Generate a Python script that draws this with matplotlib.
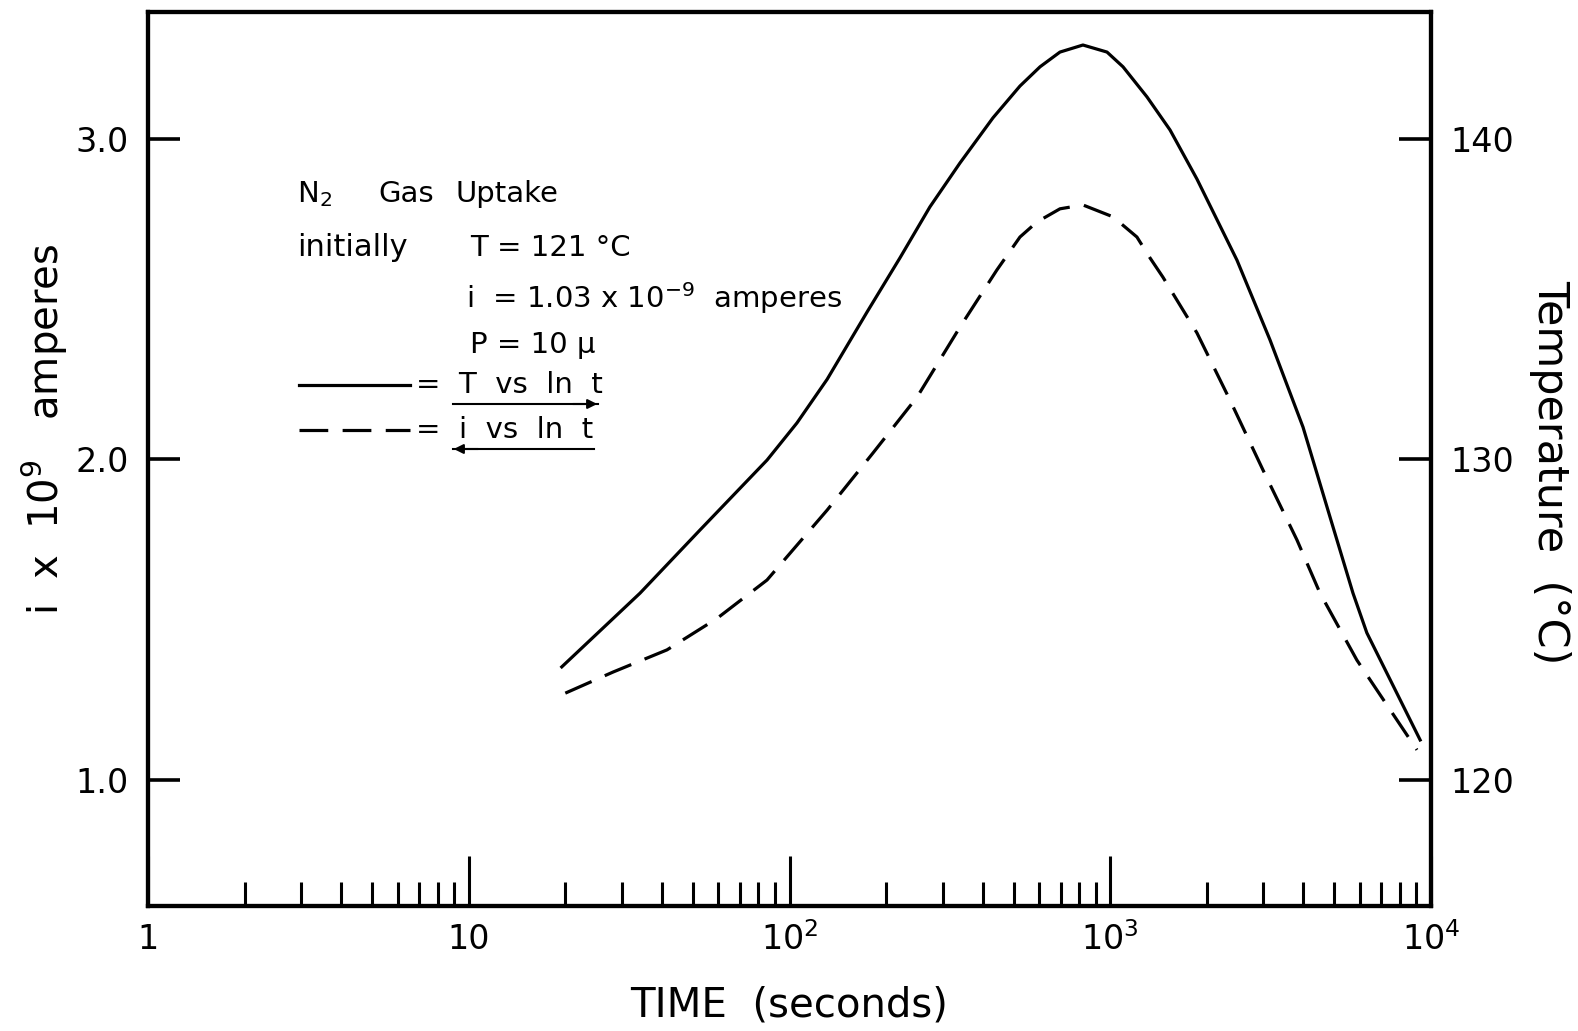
import numpy as np
import matplotlib
matplotlib.use("Agg")
import matplotlib.pyplot as plt
from matplotlib.ticker import FixedLocator, LogLocator, NullFormatter

# solid curve: temperature (deg C, right axis) vs time (s)
temp_time = [19.5, 34.2, 52.6, 85.1, 105.5, 131, 174.5, 221, 274, 340, 431, 523, 604,
             697, 822, 977, 1096, 1302, 1536, 1863, 2483, 3148, 3990, 4285, 4842,
             5712, 6310, 9250]
temp_vals = [123.53, 125.83, 127.80, 129.98, 131.14, 132.50, 134.60, 136.29, 137.88,
             139.25, 140.66, 141.65, 142.25, 142.71, 142.93, 142.71, 142.25, 141.31,
             140.28, 138.75, 136.22, 133.73, 131.01, 129.98, 128.21, 125.83, 124.59,
             121.25]

# dashed curve: current i x 1e9 (amperes, left axis) vs time (s)
cur_time = [20, 28.2, 41.5, 59.4, 85.1, 131, 182, 250, 340, 443, 523, 591, 697, 822,
            1020, 1211, 1330, 1459, 1863, 2360, 2994, 3820, 4508, 5875, 9040]
cur_vals = [1.271, 1.337, 1.406, 1.504, 1.624, 1.842, 2.020, 2.195, 2.413, 2.591,
            2.694, 2.741, 2.782, 2.794, 2.757, 2.694, 2.629, 2.569, 2.395, 2.186,
            1.967, 1.749, 1.583, 1.374, 1.094]

x_ticks = [1, 10, 100, 1000, 10000]
x_tick_labels = ["1", "10", "$10^2$", "$10^3$", "$10^4$"]
i_ticks = [1.0, 2.0, 3.0]
t_ticks = [120, 130, 140]
i_lim = (0.607, 3.396)

W, H = 1578, 1031
fig = plt.figure(figsize=(W / 100, H / 100), dpi=100)
ax = fig.add_axes([148 / W, 1 - 906 / H, (1431 - 148) / W, (906 - 12) / H])

ax.plot(cur_time, cur_vals, color="black", lw=2.3, dashes=(9, 4.5))
ax.set_xscale("log")
ax.set_xlim(1, 1e4)
ax.set_ylim(*i_lim)

ax.xaxis.set_major_locator(FixedLocator(x_ticks))
ax.set_xticklabels(x_tick_labels)
ax.xaxis.set_minor_locator(LogLocator(base=10, subs=np.arange(2, 10)))
ax.xaxis.set_minor_formatter(NullFormatter())
ax.set_yticks(i_ticks)
ax.set_yticklabels([f"{v:.1f}" for v in i_ticks])

ax.tick_params(axis="x", which="major", direction="in", length=36, width=2.2,
               labelsize=24, pad=12, top=False)
ax.tick_params(axis="x", which="minor", direction="in", length=17, width=2.2, top=False)
ax.tick_params(axis="y", direction="in", length=23, width=2.6, labelsize=24, pad=14,
               right=False)

# temperature axis shares the scale: i=1 <-> 120 C, i=3 <-> 140 C
ax2 = ax.twinx()
ax2.plot(temp_time, temp_vals, color="black", lw=2.3)
ax2.set_ylim(110 + 10 * i_lim[0], 110 + 10 * i_lim[1])
ax2.set_yticks(t_ticks)
ax2.tick_params(axis="y", direction="in", length=23, width=2.6, labelsize=24, pad=14)

for a in (ax, ax2):
    for s in a.spines.values():
        s.set_linewidth(3.0)

fig.text(0.5 * (148 + 1431) / W, 1 - 1006 / H, "TIME  (seconds)",
         ha="center", va="center", fontsize=29)
fig.text(45 / W, 1 - 429 / H, "i  x  10$^9$   amperes", ha="center", va="center",
         rotation=90, fontsize=29)
fig.text(1550 / W, 1 - 472 / H, "Temperature  (°C)", ha="center", va="center",
         rotation=-90, fontsize=31)


def fp(x, y):
    return x / W, 1 - y / H


note = dict(fontsize=21, va="center", ha="left")
fig.text(*fp(297, 194), "N$_2$", **note)
fig.text(*fp(378, 194), "Gas", **note)
fig.text(*fp(456, 194), "Uptake", **note)
fig.text(*fp(297, 248), "initially", fontsize=22, va="center", ha="left")
fig.text(*fp(470, 248), "T = 121 °C", **note)
fig.text(*fp(466, 298), "i  = 1.03 x 10$^{-9}$  amperes", **note)
fig.text(*fp(470, 345), "P = 10 μ", **note)

fig.add_artist(plt.Line2D([299 / W, 410 / W], [1 - 385 / H] * 2, color="black", lw=2.3))
fig.add_artist(plt.Line2D([299 / W, 410 / W], [1 - 430 / H] * 2, color="black", lw=2.3,
                          dashes=(9, 4.5)))
fig.text(*fp(416, 385), "=  T  vs  ln  t", **note)
fig.text(*fp(416, 430), "=  i  vs  ln  t", **note)
fig.add_artist(plt.Line2D([453 / W, 598 / W], [1 - 404 / H] * 2, color="black", lw=1.5))
fig.add_artist(plt.Line2D([453 / W, 594 / W], [1 - 449 / H] * 2, color="black", lw=1.5))
ax.annotate("", xy=(600, H - 404), xytext=(570, H - 404), xycoords="figure pixels",
            textcoords="figure pixels",
            arrowprops=dict(arrowstyle="-|>", color="black", lw=1.5, mutation_scale=14))
ax.annotate("", xy=(451, H - 449), xytext=(481, H - 449), xycoords="figure pixels",
            textcoords="figure pixels",
            arrowprops=dict(arrowstyle="-|>", color="black", lw=1.5, mutation_scale=14))

fig.savefig("out.png", dpi=100)
